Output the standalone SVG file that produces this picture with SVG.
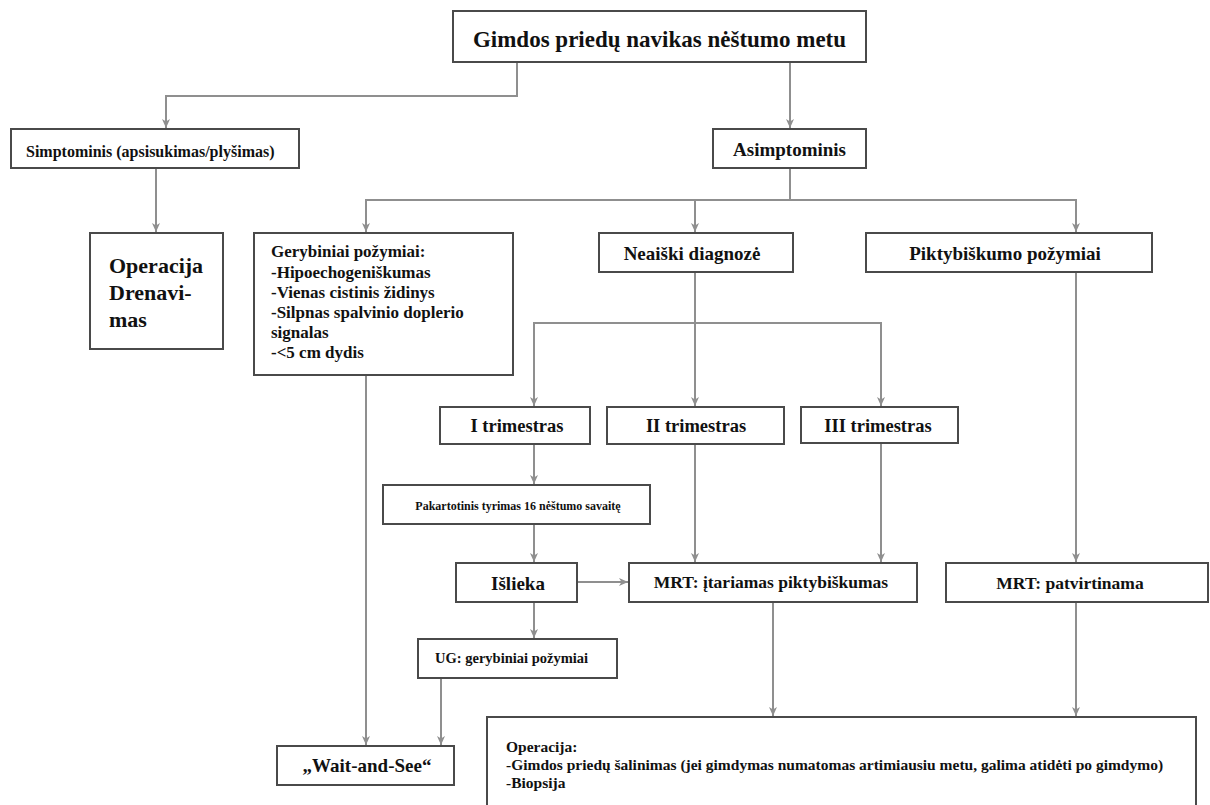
<svg xmlns="http://www.w3.org/2000/svg" width="1210" height="805" viewBox="0 0 1210 805">
<defs>
<style>
.box{fill:#fff;stroke:#4a4a4a;stroke-width:2}
.t{font-family:'Liberation Serif','Tinos','Times New Roman',Times,'DejaVu Serif','Noto Serif',serif;font-weight:bold;fill:#111}
.c{text-anchor:middle}
.ln{fill:none;stroke:#8f8f8f;stroke-width:2}
</style>
<marker id="ah" markerUnits="userSpaceOnUse" markerWidth="10" markerHeight="10" refX="9" refY="4" orient="auto">
<path d="M0,0 L9,4 L0,8 L2.5,4 z" fill="#8f8f8f"/>
</marker>
</defs>
<rect width="1210" height="805" fill="#fff"/>
<g id="connectors">
<path class="ln" d="M517,62 V96 H166 V128" marker-end="url(#ah)"/>
<path class="ln" d="M790,62 V128" marker-end="url(#ah)"/>
<path class="ln" d="M156,168 V232" marker-end="url(#ah)"/>
<path class="ln" d="M790,168 V200 H366 V232" marker-end="url(#ah)"/>
<path class="ln" d="M790,200 H695 V232" marker-end="url(#ah)"/>
<path class="ln" d="M790,200 H1076 V232" marker-end="url(#ah)"/>
<path class="ln" d="M695,272 V406" marker-end="url(#ah)"/>
<path class="ln" d="M695,323 H534 V406" marker-end="url(#ah)"/>
<path class="ln" d="M695,323 H881 V406" marker-end="url(#ah)"/>
<path class="ln" d="M534,444 V484" marker-end="url(#ah)"/>
<path class="ln" d="M534,524 V562" marker-end="url(#ah)"/>
<path class="ln" d="M577,582 H628" marker-end="url(#ah)"/>
<path class="ln" d="M695,444 V562" marker-end="url(#ah)"/>
<path class="ln" d="M881,443 V562" marker-end="url(#ah)"/>
<path class="ln" d="M1076,272 V562" marker-end="url(#ah)"/>
<path class="ln" d="M534,602 V638" marker-end="url(#ah)"/>
<path class="ln" d="M366,375 V745" marker-end="url(#ah)"/>
<path class="ln" d="M441,678 V745" marker-end="url(#ah)"/>
<path class="ln" d="M773,602 V716" marker-end="url(#ah)"/>
<path class="ln" d="M1076,602 V716" marker-end="url(#ah)"/>
</g>
<g id="n-top">
<rect class="box" x="453" y="11" width="413" height="51"/>
<text class="t c" x="659.5" y="47" font-size="23">Gimdos priedų navikas nėštumo metu</text>
</g>
<g id="n-simptominis">
<rect class="box" x="11" y="129" width="288" height="39"/>
<text class="t" x="26" y="157" font-size="16">Simptominis (apsisukimas/plyšimas)</text>
</g>
<g id="n-asimptominis">
<rect class="box" x="713" y="129" width="153" height="39"/>
<text class="t c" x="789.5" y="156" font-size="19">Asimptominis</text>
</g>
<g id="n-operacija">
<rect class="box" x="90" y="233" width="133" height="116"/>
<text class="t" x="109" y="273" font-size="22">Operacija</text>
<text class="t" x="109" y="300" font-size="22">Drenavi-</text>
<text class="t" x="109" y="327" font-size="22">mas</text>
</g>
<g id="n-gerybiniai">
<rect class="box" x="254" y="233" width="259" height="142"/>
<text class="t" x="271" y="257" font-size="17">Gerybiniai požymiai:</text>
<text class="t" x="271" y="278" font-size="17">-Hipoechogeniškumas</text>
<text class="t" x="271" y="298" font-size="17">-Vienas cistinis židinys</text>
<text class="t" x="271" y="318" font-size="17">-Silpnas spalvinio doplerio</text>
<text class="t" x="271" y="338" font-size="17">signalas</text>
<text class="t" x="271" y="358" font-size="17">-&lt;5 cm dydis</text>
</g>
<g id="n-neaiski">
<rect class="box" x="599" y="233" width="194" height="39"/>
<text class="t c" x="692" y="260" font-size="19">Neaiški diagnozė</text>
</g>
<g id="n-piktybiskumo">
<rect class="box" x="866" y="233" width="286" height="39"/>
<text class="t c" x="1005" y="260" font-size="19">Piktybiškumo požymiai</text>
</g>
<g id="n-t1">
<rect class="box" x="440" y="407" width="150" height="37"/>
<text class="t c" x="517" y="432" font-size="18.5">I trimestras</text>
</g>
<g id="n-t2">
<rect class="box" x="607" y="407" width="177" height="37"/>
<text class="t c" x="696" y="432" font-size="18.5">II trimestras</text>
</g>
<g id="n-t3">
<rect class="box" x="801" y="407" width="157" height="36"/>
<text class="t c" x="878" y="432" font-size="18.5">III trimestras</text>
</g>
<g id="n-pakartotinis">
<rect class="box" x="383" y="485" width="267" height="39"/>
<text class="t c" x="518" y="510" font-size="12">Pakartotinis tyrimas 16 nėštumo savaitę</text>
</g>
<g id="n-islieka">
<rect class="box" x="456" y="563" width="121" height="39"/>
<text class="t c" x="518" y="590" font-size="19">Išlieka</text>
</g>
<g id="n-mrt-itariamas">
<rect class="box" x="629" y="563" width="288" height="39"/>
<text class="t c" x="771" y="588" font-size="17.5">MRT: įtariamas piktybiškumas</text>
</g>
<g id="n-mrt-patvirtinama">
<rect class="box" x="946" y="563" width="262" height="39"/>
<text class="t c" x="1070" y="589" font-size="17.5">MRT: patvirtinama</text>
</g>
<g id="n-ug">
<rect class="box" x="418" y="639" width="199" height="39"/>
<text class="t" x="435" y="663" font-size="14.5">UG: gerybiniai požymiai</text>
</g>
<g id="n-wait">
<rect class="box" x="277" y="746" width="177" height="39"/>
<text class="t c" x="367" y="772" font-size="19">„Wait-and-See“</text>
</g>
<g id="n-operacija2">
<rect class="box" x="487" y="717" width="709" height="110"/>
<text class="t" x="506" y="752" font-size="15.5">Operacija:</text>
<text class="t" x="506" y="770" font-size="15.5">-Gimdos priedų šalinimas (jei gimdymas numatomas artimiausiu metu, galima atidėti po gimdymo)</text>
<text class="t" x="506" y="788" font-size="15.5">-Biopsija</text>
</g>
</svg>
